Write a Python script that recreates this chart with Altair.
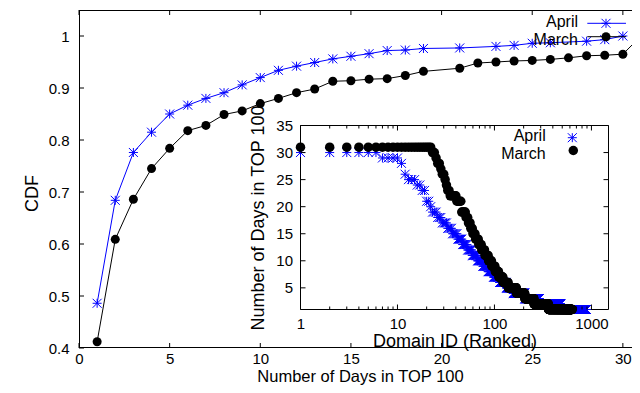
import altair as alt
import pandas as pd

# ---------------- data ----------------
series_names = ["April", "March"]

# main CDF chart
april_days = [1, 2, 3, 4, 5, 6, 7, 8, 9, 10, 11, 12, 13, 14, 15, 16, 17, 18, 19,
              21, 23, 24, 25, 26, 28, 29, 30]
april_cdf = [0.486, 0.684, 0.776, 0.815, 0.850, 0.867, 0.880, 0.891, 0.906, 0.920,
             0.934, 0.942, 0.949, 0.956, 0.961, 0.966, 0.972, 0.973, 0.976,
             0.977, 0.980, 0.982, 0.986, 0.987, 0.990, 0.993, 1.0]

march_days = [1, 2, 3, 4, 5, 6, 7, 8, 9, 10, 11, 12, 13, 14, 15, 16, 17, 18, 19,
              21, 22, 23, 24, 25, 26, 27, 28, 29, 30, 31]
march_cdf = [0.412, 0.609, 0.686, 0.745, 0.784, 0.818, 0.828, 0.849, 0.856, 0.870,
             0.880, 0.891, 0.898, 0.913, 0.914, 0.917, 0.918, 0.924, 0.932,
             0.938, 0.948, 0.950, 0.952, 0.953, 0.955, 0.958, 0.962, 0.963, 0.965, 1.0]

# inset: days in TOP 100 per ranked domain, as runs (value, last rank of the run)
april_run_days = [30, 29, 28, 26, 25, 24, 23, 21, 20, 19, 18, 17, 16, 15, 14, 13,
                  12, 11, 10, 9, 8, 7, 6, 5, 4, 3, 2, 1]
april_run_last = [6, 10, 11, 12, 15, 17, 19, 21, 22, 25, 28, 32, 36, 41, 46, 52,
                  58, 66, 75, 85, 97, 112, 132, 155, 205, 290, 480, 890]
march_run_days = [31, 30, 29, 28, 27, 26, 25, 24, 23, 22, 21, 19, 18, 17, 16, 15,
                  14, 13, 12, 11, 10, 9, 8, 7, 6, 5, 4, 3, 2, 1]
march_run_last = [22, 24, 25, 27, 28, 30, 31, 32, 34, 40, 45, 50, 53, 56, 59, 63,
                  68, 73, 79, 86, 93, 101, 110, 122, 138, 168, 205, 255, 360, 630]

# axis ticks
main_xticks = [0, 5, 10, 15, 20, 25, 30]
main_yticks = [0.4, 0.5, 0.6, 0.7, 0.8, 0.9, 1.0]
inset_xticks = [1, 10, 100, 1000]
inset_xminor = [2, 3, 4, 5, 6, 7, 8, 9, 20, 30, 40, 50, 60, 70, 80, 90,
                200, 300, 400, 500, 600, 700, 800, 900]
inset_yticks = [5, 10, 15, 20, 25, 30, 35]

# ---------------- layout / style ----------------
FONT = "Liberation Sans"
BLUE = "#0000ff"
ASTER = "M-1,0L1,0M0,-1L0,1M-1,-1L1,1M-1,1L1,-1"
W, H = 553, 338          # visible view (page is 640 wide)
XR = 562                 # full x range of the main plot (its right edge is off-page)
IX0, IX1 = 221.5, 529.5  # inset plot area (pixels inside main plot)
IY0, IY1 = 115.5, 299.5


def runs_to_frame(days, last):
    rows, prev = [], 0
    for d, l in zip(days, last):
        for r in range(prev + 1, l + 1):
            rows.append((r, d))
        prev = l
    return pd.DataFrame(rows, columns=["rank", "days"])


april = pd.DataFrame({"day": april_days, "cdf": april_cdf})
march = pd.DataFrame({"day": march_days, "cdf": march_cdf})
april_in = runs_to_frame(april_run_days, april_run_last)
march_in = runs_to_frame(march_run_days, march_run_last)
one = pd.DataFrame({"k": [0]})


def xs():
    return alt.Scale(domain=[0, 31], range=[0, XR], nice=False, zero=False)


def ys():
    return alt.Scale(domain=[0.4, 1.05], range=[H, 0], nice=False, zero=False)


def ixs():
    return alt.Scale(type="log", domain=[1, 1500], range=[IX0, IX1], nice=False)


def iys():
    return alt.Scale(domain=[1, 35], range=[IY1, IY0], nice=False, zero=False)


common_axis = dict(ticks=False, tickSize=0, domain=False, grid=False,
                   labelFlush=False, labelOverlap=False, labelFont=FONT,
                   titleFont=FONT, labelFontSize=15, titleFontSize=18,
                   titleFontWeight="normal", labelColor="black", titleColor="black")

x_axis = alt.Axis(orient="bottom", values=main_xticks, title="Number of Days in TOP 100",
                  labelPadding=15, labelBaseline="alphabetic",
                  titleY=33.4, titleBaseline="alphabetic",
                  **{**common_axis, "titleFontSize": 16.5})
y_axis = alt.Axis(orient="left", values=main_yticks, format="~g", title="CDF",
                  labelPadding=10, titleAngle=270, titleX=-42, titleY=183,
                  titleBaseline="alphabetic", **common_axis)
ix_axis = alt.Axis(orient="bottom", offset=-(H - IY1), values=inset_xticks,
                   format="d", title="Domain ID (Ranked)", labelPadding=18.8,
                   labelBaseline="alphabetic", titleY=37.2,
                   titleBaseline="alphabetic", **common_axis)
iy_axis = alt.Axis(orient="left", offset=-IX0, values=inset_yticks,
                   title="Number of Days in TOP 100", labelPadding=8,
                   titleAngle=270, titleX=-37.2, titleBaseline="alphabetic",
                   **common_axis)

tick = dict(color="black", strokeWidth=1)
key_text = dict(align="right", baseline="alphabetic", font=FONT, fontSize=16, color="black")

layers = []

# ---------------- main chart ----------------
layers.append(alt.Chart(april).mark_line(color=BLUE, strokeWidth=1).encode(
    x=alt.X("day:Q", scale=xs(), axis=x_axis),
    y=alt.Y("cdf:Q", scale=ys(), axis=y_axis)))
layers.append(alt.Chart(april).mark_point(shape=ASTER, size=81, filled=False, color=BLUE,
                                          strokeWidth=1, opacity=1).encode(
    x=alt.X("day:Q", scale=xs(), axis=None), y=alt.Y("cdf:Q", scale=ys(), axis=None)))
layers.append(alt.Chart(march).mark_line(color="black", strokeWidth=1).encode(
    x=alt.X("day:Q", scale=xs(), axis=None), y=alt.Y("cdf:Q", scale=ys(), axis=None)))
layers.append(alt.Chart(march).mark_circle(size=81, color="black", opacity=1).encode(
    x=alt.X("day:Q", scale=xs(), axis=None), y=alt.Y("cdf:Q", scale=ys(), axis=None)))

# frame (right border falls just off the page, as in the reference)
layers.append(alt.Chart(one).mark_rule(**tick).encode(
    x=alt.value(0), x2=alt.value(XR), y=alt.value(0.5)))
layers.append(alt.Chart(one).mark_rule(**tick).encode(
    x=alt.value(0), x2=alt.value(XR), y=alt.value(H - 0.5)))
layers.append(alt.Chart(one).mark_rule(**tick).encode(
    x=alt.value(0.5), y=alt.value(0), y2=alt.value(H)))

mxt = pd.DataFrame({"v": main_xticks})
myt = pd.DataFrame({"v": main_yticks})
layers.append(alt.Chart(mxt).mark_rule(**tick).encode(
    x=alt.X("v:Q", scale=xs(), axis=None), y=alt.value(H), y2=alt.value(H - 5)))
layers.append(alt.Chart(mxt).mark_rule(**tick).encode(
    x=alt.X("v:Q", scale=xs(), axis=None), y=alt.value(0), y2=alt.value(5)))
layers.append(alt.Chart(myt).mark_rule(**tick).encode(
    y=alt.Y("v:Q", scale=ys(), axis=None), x=alt.value(0), x2=alt.value(5)))
layers.append(alt.Chart(myt).mark_rule(**tick).encode(
    y=alt.Y("v:Q", scale=ys(), axis=None), x=alt.value(XR), x2=alt.value(XR - 5)))

# main key (gnuplot style: text, then line sample with point)
layers.append(alt.Chart(pd.DataFrame({"name": [series_names[0]]})).mark_text(**key_text).encode(
    text="name:N", x=alt.value(499), y=alt.value(17.0)))
layers.append(alt.Chart(one).mark_rule(color=BLUE, strokeWidth=1).encode(
    x=alt.value(508.3), x2=alt.value(547), y=alt.value(13.3)))
layers.append(alt.Chart(one).mark_point(shape=ASTER, size=81, filled=False, color=BLUE,
                                        strokeWidth=1, opacity=1).encode(
    x=alt.value(527), y=alt.value(13.3)))
layers.append(alt.Chart(pd.DataFrame({"name": [series_names[1]]})).mark_text(**key_text).encode(
    text="name:N", x=alt.value(499), y=alt.value(35.2)))
layers.append(alt.Chart(one).mark_rule(color="black", strokeWidth=1).encode(
    x=alt.value(508.3), x2=alt.value(547), y=alt.value(26.7)))
layers.append(alt.Chart(one).mark_circle(size=81, color="black", opacity=1).encode(
    x=alt.value(527), y=alt.value(26.7)))

# ---------------- inset ----------------
layers.append(alt.Chart(one).mark_rect(fill="white", stroke="black", strokeWidth=1).encode(
    x=alt.value(IX0), x2=alt.value(IX1), y=alt.value(IY0), y2=alt.value(IY1)))
layers.append(alt.Chart(april_in).mark_point(shape=ASTER, size=81, filled=False, color=BLUE,
                                             strokeWidth=1, opacity=1).encode(
    x=alt.X("rank:Q", scale=ixs(), axis=ix_axis),
    y=alt.Y("days:Q", scale=iys(), axis=iy_axis)))
layers.append(alt.Chart(march_in).mark_circle(size=90, color="black", opacity=1).encode(
    x=alt.X("rank:Q", scale=ixs(), axis=None), y=alt.Y("days:Q", scale=iys(), axis=None)))

ixt = pd.DataFrame({"v": inset_xticks})
ixm = pd.DataFrame({"v": inset_xminor})
iyt = pd.DataFrame({"v": inset_yticks})
layers.append(alt.Chart(ixt).mark_rule(**tick).encode(
    x=alt.X("v:Q", scale=ixs(), axis=None), y=alt.value(IY1), y2=alt.value(IY1 - 5)))
layers.append(alt.Chart(ixt).mark_rule(**tick).encode(
    x=alt.X("v:Q", scale=ixs(), axis=None), y=alt.value(IY0), y2=alt.value(IY0 + 5)))
layers.append(alt.Chart(ixm).mark_rule(**tick).encode(
    x=alt.X("v:Q", scale=ixs(), axis=None), y=alt.value(IY1), y2=alt.value(IY1 - 3)))
layers.append(alt.Chart(ixm).mark_rule(**tick).encode(
    x=alt.X("v:Q", scale=ixs(), axis=None), y=alt.value(IY0), y2=alt.value(IY0 + 3)))
layers.append(alt.Chart(iyt).mark_rule(**tick).encode(
    y=alt.Y("v:Q", scale=iys(), axis=None), x=alt.value(IX0), x2=alt.value(IX0 + 5)))
layers.append(alt.Chart(iyt).mark_rule(**tick).encode(
    y=alt.Y("v:Q", scale=iys(), axis=None), x=alt.value(IX1), x2=alt.value(IX1 - 5)))

layers.append(alt.Chart(pd.DataFrame({"name": [series_names[0]]})).mark_text(**key_text).encode(
    text="name:N", x=alt.value(466.7), y=alt.value(131.2)))
layers.append(alt.Chart(one).mark_point(shape=ASTER, size=81, filled=False, color=BLUE,
                                        strokeWidth=1, opacity=1).encode(
    x=alt.value(493.3), y=alt.value(127.7)))
layers.append(alt.Chart(pd.DataFrame({"name": [series_names[1]]})).mark_text(**key_text).encode(
    text="name:N", x=alt.value(466.7), y=alt.value(149.4)))
layers.append(alt.Chart(one).mark_circle(size=90, color="black", opacity=1).encode(
    x=alt.value(494.3), y=alt.value(140.5)))

chart = alt.layer(*layers).resolve_scale(
    x="independent", y="independent"
).resolve_axis(
    x="independent", y="independent"
).properties(
    width=W, height=H, autosize="none",
    padding={"left": 71, "top": 2, "right": 0, "bottom": 37},
    background="white"
).configure_view(stroke=None)

chart.save("out.html", embed_options={"renderer": "svg", "actions": False})
